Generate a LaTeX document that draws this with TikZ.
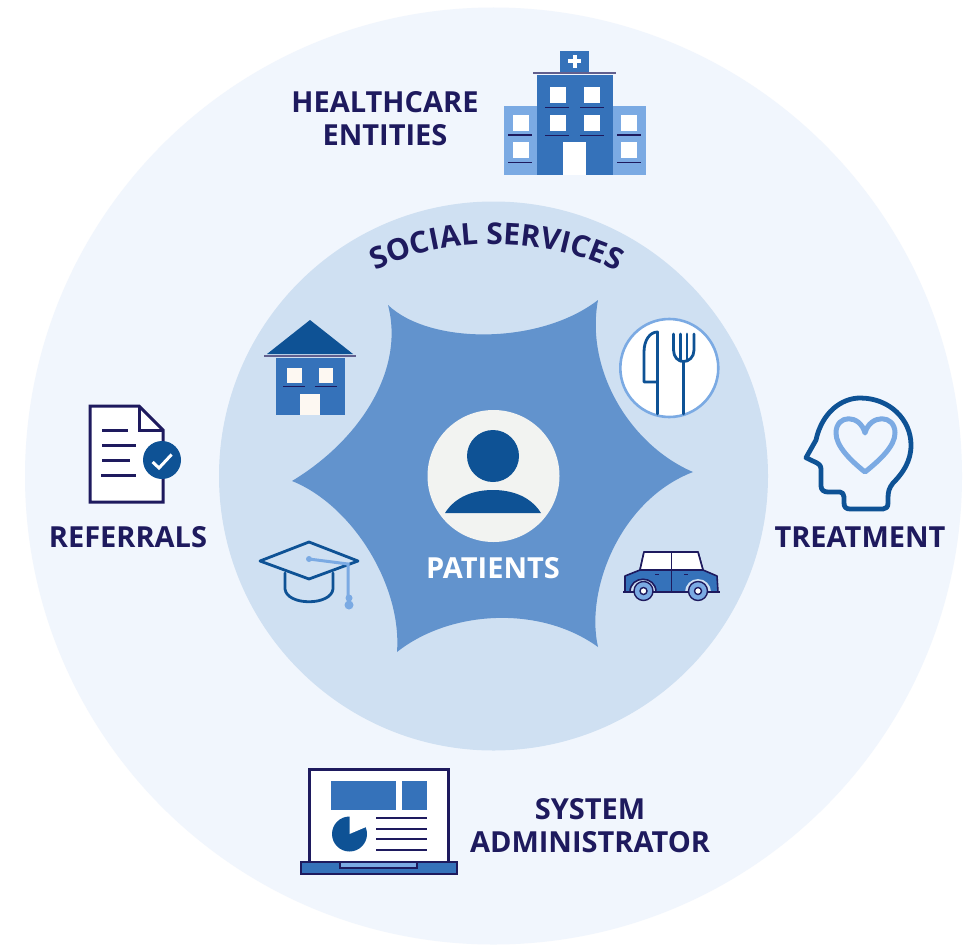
\documentclass[tikz,border=0pt]{standalone}
\usepackage{fontspec}
\setmainfont{Open Sans}
\usetikzlibrary{decorations.text}
\definecolor{outerc}{HTML}{F1F6FD}
\definecolor{innerc}{HTML}{CFE0F2}
\definecolor{starc}{HTML}{6293CD}
\definecolor{darkb}{HTML}{0E5295}
\definecolor{midb}{HTML}{3572BA}
\definecolor{lightb}{HTML}{7BAAE3}
\definecolor{navy}{HTML}{1E1A5E}
\definecolor{cream}{HTML}{FDF8F2}
\definecolor{pale}{HTML}{F2F3F1}
\tikzset{
  label text/.style={text=navy,font=\fontsize{29}{33}\selectfont\bfseries,align=center,inner sep=0pt},
  ledge/.style={draw=navy,line width=1.2pt},
  darkline/.style={draw=darkb,line width=2.8pt,line join=round,line cap=round},
  navyline/.style={draw=navy,line width=3pt},
  lightline/.style={draw=lightb,line width=3pt,line cap=round}
}
\begin{document}
\begin{tikzpicture}[x=1pt,y=-1pt]
\useasboundingbox (0,0) rectangle (971,947);
\fill[white] (0,0) rectangle (971,947);
\coordinate (center) at (493.5,476);
\fill[outerc] (center) circle[radius=468.5pt];
\fill[innerc] (center) circle[radius=274.5pt];
% star
\fill[starc] (388,305) .. controls (430,345) and (540,345) .. (598,300)
  .. controls (585,370) and (630,445) .. (693,472)
  .. controls (620,500) and (585,590) .. (598,647)
  .. controls (540,605) and (450,610) .. (397,652)
  .. controls (402,585) and (352,505) .. (292,481)
  .. controls (360,440) and (405,370) .. (388,305) -- cycle;
% patient
\fill[pale] (center) circle[radius=66pt];
\fill[darkb] (493,456) circle[radius=26pt];
\fill[darkb] (445,513) .. controls (455,497) and (473,490) .. (493,490) .. controls (513,490) and (531,497) .. (541,513) -- cycle;
\node[label text,text=white] (patients) at (493,568) {PATIENTS};
% social services
\path[decorate,decoration={text along path,text align=center,
   text={|\fontsize{30}{34}\selectfont\bfseries\color{navy}|SOCIAL SERVICES}}]
   (362,277) .. controls (440,233) and (552,233) .. (630,279);
% labels
\node[label text] (healthcare) at (385,119) {HEALTHCARE\\ENTITIES};
\node[label text] (referrals) at (128,537) {REFERRALS};
\node[label text] (treatment) at (860,537) {TREATMENT};
\node[label text] (sysadmin) at (590,826) {SYSTEM\\ADMINISTRATOR};
% hospital
\fill[lightb] (503.5,106) rectangle (537,175);
\fill[lightb] (612.5,106) rectangle (645.5,175);
\fill[midb] (537,75) rectangle (612.5,175);
\fill[midb] (560,51) rectangle (589,72);
\draw[navy!70!white,line width=1.6pt] (533,73) -- (616,73);
\fill[white] (572.5,55) rectangle (576.5,68);
\fill[white] (568,59.5) rectangle (581,63.5);
\foreach \wx in {550,584}{
  \foreach \wy in {87,115}{\fill[white] (\wx,\wy) rectangle ++(15.5,16);}
}
\foreach \lx in {545,580}{
  \foreach \ly in {107.5,135.5}{\draw[ledge] (\lx,\ly) -- ++(24,0);}
}
\fill[white] (563,142) rectangle (586,175);
\foreach \wx in {513,621}{
  \foreach \wy in {115,142}{\fill[white] (\wx,\wy) rectangle ++(15.5,16);}
}
\foreach \lx in {508,617}{
  \draw[ledge] (\lx,135) -- ++(24,0);
  \draw[navy,line width=1.8pt] (\lx,162.5) -- ++(24,0);
}
% house
\fill[darkb] (310,320) -- (353,354) -- (267,354) -- cycle;
\draw[navy!70!white,line width=1.6pt] (264,356) -- (356,356);
\fill[midb] (276,358) rectangle (344.5,414.5);
\fill[cream] (287,368) rectangle (302,383);
\fill[cream] (319,368) rectangle (333,383);
\fill[cream] (300,394) rectangle (320,414.5);
\draw[ledge] (283,386.5) -- (305,386.5);
\draw[ledge] (315,386.5) -- (337,386.5);
% cutlery
\draw[lightb,fill=white,line width=2.6pt] (669.3,368) circle[radius=49pt];
\draw[darkline] (657.5,414) -- (657.5,332) .. controls (650,332) and (644,340) .. (644,352) -- (644,382) -- (657.5,382);
\draw[darkline] (683.5,362) -- (683.5,414);
\draw[darkline] (673.5,334) -- (673.5,350) .. controls (673.5,357) and (678,361.5) .. (683.5,361.5) .. controls (689,361.5) and (694,357) .. (694,350) -- (694,334);
\draw[darkline] (680.5,334) -- (680.5,361);
\draw[darkline] (687,334) -- (687,361);
% hat
\draw[darkline] (285,573) -- (285,589) .. controls (287,606) and (331,606) .. (333,589) -- (333,573);
\draw[darkline] (260,561) -- (309,542) -- (358,561) -- (309,579) -- cycle;
\draw[lightline] (309,559) -- (348,564) -- (348,600);
\fill[lightb] (309,559) circle[radius=3pt];
\fill[lightb] (349,598) circle[radius=3.5pt];
\fill[lightb] (349,605) circle[radius=4.5pt];
% car
\draw[navy,fill=midb,line width=1.6pt,line join=round] (625,592) -- (625,576) -- (640,570) -- (644,552) -- (698,552) -- (703,570) -- (717,576) -- (718,592) -- cycle;
\draw[navy,fill=white,line width=1.6pt,line join=round] (640,570) -- (644,552) -- (698,552) -- (703,570) -- cycle;
\draw[navy,line width=1.2pt] (671.5,552) -- (671.5,591);
\draw[navy,line width=1pt] (655,574) -- (659,574);
\draw[navy,line width=1pt] (684,574) -- (688,574);
\fill[innerc] (643,592) circle[radius=13pt];
\fill[innerc] (698,592) circle[radius=13pt];
\draw[navy,line width=1.6pt] (630,592) .. controls (630,575) and (656,575) .. (656,592);
\fill[innerc] (623,593) rectangle (720,603);
\draw[navy,line width=1.6pt] (623,592) -- (720,592);
\draw[navy,fill=lightb,line width=1.4pt] (643.5,591) circle[radius=9.5pt];
\draw[navy,fill=lightb,line width=1.4pt] (698,591) circle[radius=9.5pt];
\draw[navy,fill=white,line width=1.4pt] (643.5,591) circle[radius=3.5pt];
\draw[navy,fill=white,line width=1.4pt] (698,591) circle[radius=3.5pt];
% referrals icon
\draw[navyline,fill=white,line join=miter] (90,406) -- (139,406) -- (163,430) -- (163,502) -- (90,502) -- cycle;
\draw[navyline] (139,406) -- (139,430) -- (163,430);
\draw[navyline] (102,430) -- (128,430);
\draw[navyline] (102,445) -- (136,445);
\draw[navyline] (102,460) -- (130,460);
\draw[navyline] (101,475) -- (136,475);
\fill[darkb] (162,460) circle[radius=19pt];
\draw[white,line width=3pt] (152.6,462) -- (159,468) -- (171.6,454.5);
% head
\draw[darkb,line width=4.8pt,line join=round,line cap=round] (806,457.7) -- (816,440)
  .. controls (822,412) and (842,398) .. (860,398)
  .. controls (890,398) and (911,420) .. (911,445)
  .. controls (911,462) and (902,474) .. (893,483)
  .. controls (889,488) and (888,492) .. (888,498)
  -- (888,503) .. controls (888,507) and (886,509) .. (883,509)
  -- (850,509) .. controls (846,509) and (844,507) .. (844,503)
  -- (844,497) .. controls (844,494) and (842,492) .. (840,492)
  -- (828,492) .. controls (824,492) and (821,490) .. (821,486)
  -- (821,470) .. controls (821,466) and (820,465) .. (817,463) -- cycle;
\draw[lightb,line width=5pt,line join=round] (865,472)
  .. controls (850,460) and (836,446) .. (836,433)
  .. controls (836,414) and (860,414) .. (865,433)
  .. controls (870,414) and (895,414) .. (895,433)
  .. controls (895,446) and (880,460) .. (865,472) -- cycle;
% laptop
\draw[navyline,fill=white] (309,769) rectangle (448,862);
\fill[midb] (331,781) rectangle (396,810);
\fill[midb] (402,781) rectangle (427,810);
\fill[darkb] (349.5,834) circle[radius=17.5pt];
\fill[white] (349.5,834) -- (349.5,815) -- (375,815) -- (375,823.2) -- cycle;
\foreach \ly in {818,829,839,850}{\draw[navy,line width=2.4pt] (376,\ly) -- (427,\ly);}
\draw[navy,fill=midb,line width=2.6pt] (301,862) rectangle (457,874);
\draw[navy,fill=lightb,line width=2pt] (340,862) rectangle (417,868);
\end{tikzpicture}
\end{document}
